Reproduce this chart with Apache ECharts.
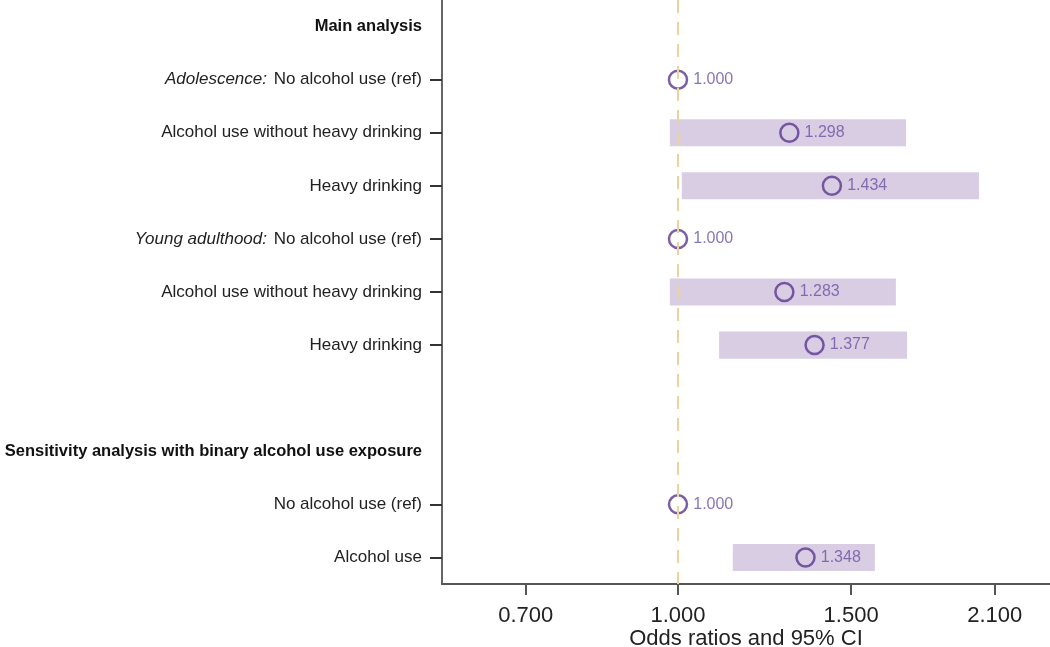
<!DOCTYPE html>
<html>
<head>
<meta charset="utf-8">
<script src="https://cdn.jsdelivr.net/npm/echarts@6/dist/echarts.min.js"></script>
<style>
  html, body { margin: 0; padding: 0; background: #fff; }
  #chart { width: 1050px; height: 647px; }
</style>
</head>
<body>
<div id="chart"></div>
<script>
// rows from top to bottom
var rowLabels = ['Main analysis', 'No alcohol use (ref)', 'Alcohol use without heavy drinking', 'Heavy drinking',
  'No alcohol use (ref)', 'Alcohol use without heavy drinking', 'Heavy drinking', '',
  'Sensitivity analysis with binary alcohol use exposure', 'No alcohol use (ref)', 'Alcohol use'];
var rowPrefix = ['', 'Adolescence:', '', '', 'Young adulthood:', '', '', '', '', '', ''];
var headerRows = [0, 8];

var oddsRatios = [null, 1.000, 1.298, 1.434, 1.000, 1.283, 1.377, null, null, 1.000, 1.348];
var ciLower = [null, null, 0.981, 1.009, null, 0.981, 1.101, null, null, null, 1.137];
var ciUpper = [null, null, 1.706, 2.024, null, 1.666, 1.710, null, null, null, 1.586];

var xTicks = [0.7, 1.0, 1.5, 2.1];
var xMin = 0.5754, xMax = 2.39;

var ln = Math.log;
var rowIdx = rowLabels.map(function (d, i) { return String(i); });

var ciData = [], pointData = [];
oddsRatios.forEach(function (v, i) {
  if (ciLower[i] != null) ciData.push([ln(ciLower[i]), ln(ciUpper[i]), i]);
  if (v != null) pointData.push([ln(v), i, v]);
});

var myChart = echarts.init(document.getElementById('chart'));

myChart.setOption({
  animation: false,
  textStyle: { fontFamily: 'Liberation Sans, Arial, sans-serif' },
  grid: { left: 442, right: 0, top: 0, bottom: 63, outerBoundsMode: 'none', containLabel: false },
  xAxis: {
    type: 'value',
    min: ln(xMin),
    max: ln(xMax),
    splitLine: { show: false },
    axisLine: { show: true, onZero: false, lineStyle: { color: '#555', width: 2 } },
    axisTick: { show: true, length: 11, customValues: xTicks.map(ln), lineStyle: { color: '#555', width: 2 } },
    axisLabel: {
      customValues: xTicks.map(ln),
      formatter: function (v) { return Math.exp(v).toFixed(3); },
      fontSize: 22, color: '#222', margin: 21
    },
    name: 'Odds ratios and 95% CI',
    nameLocation: 'middle',
    nameGap: 44,
    nameMoveOverlap: false,
    nameTextStyle: { fontSize: 22, color: '#222', verticalAlign: 'top' }
  },
  yAxis: {
    type: 'category',
    inverse: true,
    data: rowIdx,
    axisLine: { show: true, onZero: false, lineStyle: { color: '#666', width: 2 } },
    axisTick: {
      show: true, alignWithLabel: true, length: 12,
      interval: function (i) { return rowLabels[i] !== '' && headerRows.indexOf(i) < 0; },
      lineStyle: { color: '#333', width: 2 }
    },
    axisLabel: {
      interval: 0,
      margin: 20,
      formatter: function (v) {
        var i = +v;
        if (headerRows.indexOf(i) >= 0) return '{b|' + rowLabels[i] + '}';
        if (rowPrefix[i]) return '{i|' + rowPrefix[i] + '}  {n|' + rowLabels[i] + '}';
        return '{n|' + rowLabels[i] + '}';
      },
      rich: {
        b: { fontSize: 16.5, fontWeight: 'bold', color: '#111', lineHeight: 20 },
        i: { fontSize: 17, fontStyle: 'italic', color: '#222', lineHeight: 20 },
        n: { fontSize: 17, color: '#222', lineHeight: 20 }
      }
    }
  },
  series: [
    {
      type: 'custom',
      data: ciData,
      encode: { x: [0, 1], y: 2 },
      renderItem: function (params, api) {
        var a = api.coord([api.value(0), api.value(2)]);
        var b = api.coord([api.value(1), api.value(2)]);
        var h = api.size([0, 1])[1] * 0.51;
        return {
          type: 'rect',
          shape: { x: a[0], y: a[1] - h / 2, width: b[0] - a[0], height: h },
          style: { fill: '#d9cde3' }
        };
      },
      z: 2
    },
    {
      type: 'scatter',
      data: pointData,
      symbol: 'circle',
      symbolSize: 18,
      itemStyle: { color: 'rgba(0,0,0,0)', borderColor: '#5a3790', borderWidth: 2.5 },
      label: {
        show: true, position: 'right', distance: 5,
        formatter: function (p) { return p.data[2].toFixed(3); },
        fontSize: 16, color: '#6a52a3'
      },
      markLine: {
        silent: true,
        symbol: 'none',
        label: { show: false },
        lineStyle: { color: '#ebd29e', type: [13, 9], width: 2 },
        data: [{ xAxis: 0 }]
      },
      z: 3
    }
  ]
});
</script>
</body>
</html>
